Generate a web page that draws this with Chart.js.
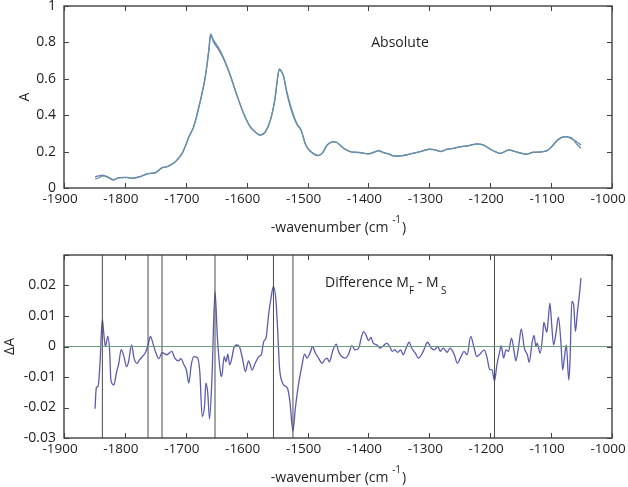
<!DOCTYPE html>
<html>
<head>
<meta charset="utf-8">
<script src="https://cdn.jsdelivr.net/npm/chart.js@4"></script>
<style>
  html, body { margin: 0; padding: 0; background: #ffffff; }
  #wrap { position: relative; width: 628px; height: 487px; }
  #top { position: absolute; left: 0; top: 0; }
  #bot { position: absolute; left: 0; top: 245px; }
</style>
</head>
<body>
<div id="wrap">
  <canvas id="top" width="628" height="245"></canvas>
  <canvas id="bot" width="628" height="242"></canvas>
</div>
<script>
// ---------- Data ----------
const xTicks = [-1900, -1800, -1700, -1600, -1500, -1400, -1300, -1200, -1100, -1000];

const absWn = [-1849,-1843,-1837,-1829,-1819,-1810,-1796,-1788,-1774,-1763,-1750,-1739,-1730,-1717,-1706,-1700,-1695,-1687,-1676,-1668,-1662,-1659,-1654,-1646,-1638,-1627,-1616,-1605,-1594,-1583,-1577,-1569,-1561,-1554,-1549,-1546,-1540,-1534,-1525,-1517,-1511,-1503,-1495,-1484,-1476,-1468,-1460,-1452,-1441,-1430,-1414,-1400,-1391,-1383,-1375,-1367,-1359,-1348,-1331,-1315,-1301,-1290,-1282,-1271,-1260,-1249,-1236,-1222,-1211,-1200,-1192,-1183,-1170,-1159,-1148,-1140,-1129,-1118,-1107,-1099,-1090,-1082,-1074,-1066,-1058,-1051];

const absA = [0.062,0.066,0.071,0.062,0.044,0.057,0.058,0.053,0.064,0.079,0.084,0.112,0.117,0.145,0.19,0.236,0.28,0.337,0.48,0.61,0.76,0.845,0.80,0.76,0.71,0.62,0.51,0.41,0.337,0.30,0.29,0.31,0.374,0.48,0.61,0.654,0.62,0.52,0.41,0.346,0.32,0.236,0.2,0.178,0.19,0.236,0.254,0.25,0.218,0.2,0.194,0.187,0.197,0.205,0.194,0.187,0.176,0.176,0.187,0.2,0.213,0.21,0.2,0.213,0.218,0.227,0.232,0.242,0.236,0.213,0.2,0.19,0.209,0.2,0.19,0.185,0.197,0.197,0.205,0.227,0.26,0.278,0.282,0.27,0.254,0.236];

const absB = [0.050,0.055,0.066,0.060,0.046,0.056,0.057,0.054,0.063,0.078,0.083,0.110,0.118,0.144,0.19,0.235,0.28,0.336,0.48,0.61,0.76,0.840,0.81,0.77,0.715,0.62,0.51,0.41,0.335,0.30,0.292,0.31,0.372,0.48,0.61,0.650,0.62,0.53,0.42,0.35,0.322,0.238,0.2,0.18,0.19,0.235,0.252,0.25,0.22,0.2,0.195,0.188,0.196,0.204,0.195,0.188,0.177,0.177,0.188,0.2,0.212,0.21,0.201,0.212,0.219,0.226,0.233,0.241,0.235,0.214,0.2,0.19,0.208,0.2,0.19,0.186,0.196,0.198,0.204,0.228,0.262,0.28,0.28,0.275,0.242,0.218];

const diffWn = [-1849,-1847,-1844,-1841,-1837,-1835,-1832,-1828,-1825,-1823,-1818,-1814,-1810,-1806,-1802,-1797,-1794,-1789,-1785,-1780,-1776,-1770,-1766,-1762,-1758,-1754,-1750,-1744,-1739,-1731,-1723,-1718,-1712,-1708,-1703,-1699,-1695,-1691,-1687,-1681,-1677,-1673,-1669,-1667,-1664,-1661,-1657,-1652,-1648,-1643,-1641,-1637,-1634,-1631,-1628,-1625,-1621,-1616,-1612,-1607,-1602,-1597,-1591,-1586,-1580,-1576,-1572,-1568,-1564,-1560,-1556,-1552,-1549,-1546,-1542,-1538,-1533,-1529,-1524,-1520,-1515,-1509,-1505,-1501,-1495,-1492,-1487,-1482,-1476,-1472,-1468,-1464,-1459,-1453,-1449,-1444,-1438,-1433,-1427,-1422,-1416,-1412,-1408,-1404,-1400,-1396,-1392,-1386,-1381,-1375,-1370,-1365,-1361,-1357,-1352,-1347,-1343,-1338,-1333,-1329,-1323,-1318,-1310,-1303,-1297,-1292,-1286,-1282,-1277,-1271,-1266,-1259,-1254,-1248,-1243,-1238,-1232,-1227,-1222,-1217,-1210,-1205,-1201,-1197,-1193,-1189,-1185,-1182,-1178,-1174,-1170,-1165,-1160,-1158,-1153,-1149,-1144,-1139,-1136,-1131,-1128,-1125,-1123,-1118,-1114,-1112,-1107,-1105,-1102,-1099,-1096,-1092,-1088,-1084,-1081,-1078,-1075,-1071,-1069,-1066,-1063,-1060,-1057,-1053,-1051];

const diffVal = [-0.0204,-0.0136,-0.013,-0.006,0.009,0.005,0,0.0033,-0.0016,-0.011,-0.0126,-0.0087,-0.0055,-0.001,-0.003,-0.0066,-0.005,0.0005,-0.0038,-0.0055,-0.0044,-0.003,-0.0019,0.0005,0.0033,0.0011,-0.0016,-0.004,-0.002,-0.0027,-0.0016,-0.0038,-0.0047,-0.004,-0.006,-0.0077,-0.012,-0.006,-0.0033,-0.0036,-0.0082,-0.023,-0.019,-0.012,-0.015,-0.0237,-0.0104,0.018,0.0027,-0.0087,-0.0098,-0.0033,-0.005,-0.0025,-0.006,-0.0044,-0.0005,0.0005,0,-0.0038,-0.0082,-0.0047,-0.0077,-0.0055,-0.0033,-0.0027,0.0016,0.003,0.0104,0.0159,0.0197,0.0153,0.0049,-0.0071,-0.0115,-0.0128,-0.0137,-0.018,-0.0277,-0.0202,-0.0126,-0.006,-0.0025,-0.0038,-0.0016,0,-0.0022,-0.0038,-0.0055,-0.0044,-0.0038,-0.005,-0.0016,0.0008,-0.0016,-0.0033,-0.0038,-0.0027,0.0003,-0.0011,-0.0005,0.0027,0.0049,0.0038,0.0019,0.003,0.0011,0.0005,-0.0005,0.0003,0.0011,0,-0.0016,-0.0011,-0.0019,-0.0011,-0.0027,-0.0005,0.0014,-0.0005,-0.0022,-0.0038,-0.0016,0.0014,-0.0005,-0.0011,0,-0.0016,-0.0005,-0.0019,-0.0005,-0.0027,-0.0055,-0.0033,-0.0016,-0.0027,0.0033,0,-0.0033,-0.0025,-0.0011,-0.0038,-0.0075,-0.0077,-0.0113,-0.006,-0.0022,0.0003,-0.0038,-0.0011,-0.0016,0.0027,-0.0027,-0.0047,0.0005,0.0058,-0.0005,-0.0027,-0.0052,0.0016,0.0036,0,0.0011,-0.0022,0.0033,0.0079,0.0047,0.0082,0.0142,0.0071,0.0005,0.0044,0.0096,0.0016,-0.0077,-0.0033,0.0005,-0.011,-0.005,0.0148,0.0137,0.0049,0.0109,0.018,0.0224];

const markerWn = [-1837, -1762, -1739, -1652, -1556, -1524, -1193];

const absYTicks = [0, 0.2, 0.4, 0.6, 0.8, 1];
const diffYTicks = [-0.03, -0.02, -0.01, 0, 0.01, 0.02, 0.03];

// ---------- Helpers ----------
const FONT = "'Open Sans', 'Liberation Sans', sans-serif";
const TXT = '#1e1e1e';
const pts = (xs, ys) => xs.map((x, i) => ({ x: x, y: ys[i] }));

function fmtX(v) { return String(Math.round(v)); }

const framePlugin = {
  id: 'frame',
  afterDraw(chart, args, opts) {
    const { ctx, chartArea: a, scales } = chart;
    ctx.save();
    ctx.strokeStyle = '#404040';
    ctx.lineWidth = 1.4;
    ctx.strokeRect(a.left, a.top, a.right - a.left, a.bottom - a.top);
    ctx.lineWidth = 1;
    ctx.strokeStyle = '#404040';
    const tl = 5;
    scales.x.ticks.forEach(t => {
      const px = Math.round(scales.x.getPixelForValue(t.value)) + 0.5;
      ctx.beginPath();
      ctx.moveTo(px, a.bottom); ctx.lineTo(px, a.bottom - tl);
      ctx.moveTo(px, a.top); ctx.lineTo(px, a.top + tl);
      ctx.stroke();
    });
    scales.y.ticks.forEach(t => {
      const py = Math.round(scales.y.getPixelForValue(t.value)) + 0.5;
      ctx.beginPath();
      ctx.moveTo(a.left, py); ctx.lineTo(a.left + tl, py);
      ctx.moveTo(a.right, py); ctx.lineTo(a.right - tl, py);
      ctx.stroke();
    });

    // x-axis title with superscript
    ctx.fillStyle = TXT;
    ctx.textBaseline = 'middle';
    ctx.textAlign = 'left';
    const cx = (a.left + a.right) / 2;
    const ty = a.bottom + 40;
    const main = '-wavenumber (cm ';
    const sup = '-1';
    const end = ')';
    ctx.font = '14px ' + FONT;
    const w1 = ctx.measureText(main).width;
    const w3 = ctx.measureText(end).width;
    ctx.font = '10px ' + FONT;
    const w2 = ctx.measureText(sup).width;
    let x0 = cx - (w1 + w2 + w3) / 2;
    ctx.font = '14px ' + FONT;
    ctx.fillText(main, x0, ty);
    ctx.font = '10px ' + FONT;
    ctx.fillText(sup, x0 + w1, ty - 8);
    ctx.font = '14px ' + FONT;
    ctx.fillText(end, x0 + w1 + w2 + 1, ty);

    // y-axis title
    ctx.save();
    ctx.translate(opts.yTitleX, (a.top + a.bottom) / 2);
    ctx.rotate(-Math.PI / 2);
    ctx.textAlign = 'center';
    ctx.font = '14px ' + FONT;
    ctx.fillText(opts.yTitle, 0, 0);
    ctx.restore();

    // annotation
    if (opts.kind === 'abs') {
      ctx.textAlign = 'center';
      ctx.font = '14px ' + FONT;
      ctx.fillText('Absolute', a.left + 336, a.top + 37);
    } else {
      ctx.textAlign = 'left';
      let x = a.left + 261;
      const y = a.top + 28;
      const parts = [
        ['Difference M', 14, 0],
        ['F', 10, 8],
        [' - M', 14, 0],
        [' S', 10, 8]
      ];
      parts.forEach(p => {
        ctx.font = p[1] + 'px ' + FONT;
        ctx.fillText(p[0], x, y + p[2]);
        x += ctx.measureText(p[0]).width;
      });
    }
    ctx.restore();
  }
};

function xScale(height) {
  return {
    type: 'linear',
    min: -1900, max: -1000,
    afterBuildTicks(s) { s.ticks = xTicks.map(v => ({ value: v })); },
    grid: { display: false, drawTicks: false },
    border: { display: false },
    ticks: {
      color: TXT, font: { family: FONT, size: 13.5 }, padding: 3,
      labelOffset: -4,
      maxRotation: 0, autoSkip: false,
      callback: v => fmtX(v)
    },
    afterFit(s) { s.height = height; s.paddingLeft = 0; s.paddingRight = 0; }
  };
}

function yScale(ticks, fmt) {
  return {
    type: 'linear',
    min: ticks[0], max: ticks[ticks.length - 1],
    afterBuildTicks(s) { s.ticks = ticks.map(v => ({ value: v })); },
    grid: { display: false, drawTicks: false },
    border: { display: false },
    ticks: { color: TXT, font: { family: FONT, size: 14 }, padding: 8, autoSkip: false, callback: fmt },
    afterFit(s) { s.width = 64; s.paddingTop = 0; s.paddingBottom = 0; }
  };
}

// ---------- Top chart ----------
new Chart(document.getElementById('top'), {
  type: 'line',
  data: {
    datasets: [
      { data: pts(absWn, absB), borderColor: '#6592a0', borderWidth: 1.3, pointRadius: 0, tension: 0.3, fill: false },
      { data: pts(absWn, absA), borderColor: '#6a78c0', borderWidth: 1.3, pointRadius: 0, tension: 0.3, fill: false }
    ]
  },
  options: {
    responsive: false, animation: false,
    parsing: false,
    layout: { padding: { top: 6, right: 16, bottom: 0, left: 0 } },
    plugins: { legend: { display: false }, tooltip: { enabled: false },
      frame: { kind: 'abs', yTitle: 'A', yTitleX: 25 } },
    scales: {
      x: xScale(57),
      y: yScale(absYTicks, v => String(Math.round(v * 10) / 10))
    }
  },
  plugins: [framePlugin]
});

// ---------- Bottom chart ----------
const diffSets = [
  { data: [{ x: -1900, y: 0 }, { x: -1000, y: 0 }], borderColor: '#6d9e84', borderWidth: 1.2, pointRadius: 0, fill: false }
];
markerWn.forEach(w => diffSets.push({
  data: [{ x: w, y: diffYTicks[0] }, { x: w, y: diffYTicks[diffYTicks.length - 1] }],
  borderColor: '#4a4a4a', borderWidth: 1, pointRadius: 0, fill: false
}));
diffSets.push({ data: pts(diffWn, diffVal), borderColor: '#5b5bb0', borderWidth: 1.3, pointRadius: 0, tension: 0, cubicInterpolationMode: 'monotone', fill: false });

new Chart(document.getElementById('bot'), {
  type: 'line',
  data: { datasets: diffSets },
  options: {
    responsive: false, animation: false,
    parsing: false,
    layout: { padding: { top: 10, right: 16, bottom: 0, left: 0 } },
    plugins: { legend: { display: false }, tooltip: { enabled: false },
      frame: { kind: 'diff', yTitle: '\u0394A', yTitleX: 10 } },
    scales: {
      x: xScale(49),
      y: yScale(diffYTicks, v => {
        const r = Math.round(v * 100) / 100;
        if (r >= 0.03) return '';
        return r === 0 ? '0' : r.toFixed(2);
      })
    }
  },
  plugins: [framePlugin]
});
</script>
</body>
</html>
